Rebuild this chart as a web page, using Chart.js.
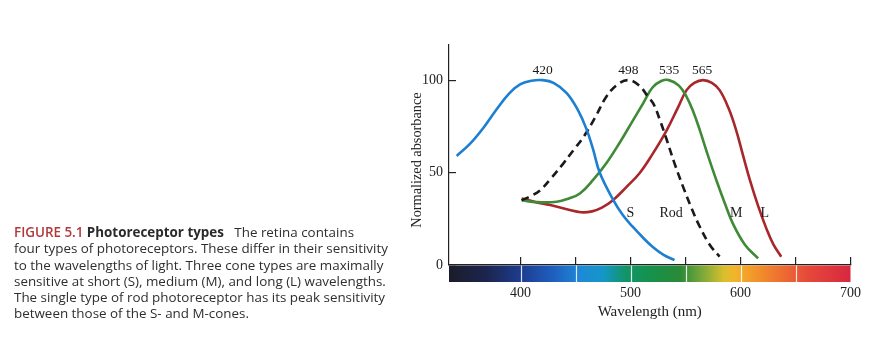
<!DOCTYPE html>
<html>
<head>
<meta charset="utf-8">
<script src="https://cdn.jsdelivr.net/npm/chart.js@4/dist/chart.umd.min.js"></script>
<style>
  html, body { margin:0; padding:0; background:#fff; }
  #wrap { position:relative; width:869px; height:356px; overflow:hidden; }
  #c { position:absolute; left:0; top:0; }
  #cap { position:absolute; left:14px; top:224px; font-family:"Open Sans", sans-serif; font-size:13.4px; line-height:16.3px; color:#2e2e2e; white-space:nowrap; }
  #cap .fig { color:#b3383b; font-weight:600; }
  #cap b { font-weight:700; color:#2a2a2a; }
  #ytitle { position:absolute; left:316px; top:152px; width:200px; height:16px; line-height:16px; text-align:center;
    font-family:"Liberation Serif", serif; font-size:14.3px; color:#222; transform:rotate(-90deg); transform-origin:50% 50%; }
</style>
</head>
<body>
<div id="wrap">
<canvas id="c" width="869" height="356"></canvas>
<div id="ytitle">Normalized absorbance</div>
<div id="cap"><span class="fig">FIGURE 5.1</span> <b>Photoreceptor types</b>&nbsp;&nbsp; The retina contains<br>four types of photoreceptors. These differ in their sensitivity<br>to the wavelengths of light. Three cone types are maximally<br>sensitive at short (S), medium (M), and long (L) wavelengths.<br>The single type of rod photoreceptor has its peak sensitivity<br>between those of the S- and M-cones.</div>
</div>
<script>
// ---- data ----
const sWavelength = [342,354,366,378,390,400,410,420,430,442,452,460,466,472,484,493,502,511,520,530,540];
const sValues     = [59,65.5,74,84,93,97.8,99.7,100,98.5,93,84,73.5,62.5,50,35.5,27,20.7,15,9.9,5.5,2.7];

const rodWavelength = [401,410,418,428,439,448,457,468,478,488,498,508,516,521,527,533,540,548,556,563,572,581];
const rodValues     = [35,37.5,40.5,47,55,62,69,80,91,97.5,100,97,91,87,78,67.6,55,42,30,20.7,11,4.5];

const mWavelength = [401,415,433,444,454,466,478,490,502,512,520,528,535,544,551,557,563,570,578,586,593,604,616];
const mValues     = [35,34,34.2,36,38.7,46,55,66,78,88,96,99.5,100,97,91,83,73,60,46,33,22.5,11,3.6];

const lWavelength = [401,414,427,443,455,465,474,484,496,508,520,533,543,551,558,566,574,581,589,596,602,608.5,616,624,630,637];
const lValues     = [36,34,32.4,30,28.5,29,31,35,42,49.5,60,73,85,94.6,98.5,100,98.5,94.6,85,73,60,46,32,19,11,4.5];

const peakLabels = ['420','498','535','565'];
const peakWavelengths = [420,498,535,565];
const peakLabelValue = 105;

const curveLabels = ['S','Rod','M','L'];
const curveLabelWavelengths = [500,537,596,622];
const curveLabelValue = 28;

const xTickValuesLabelled = [400,500,600,700];
const yTickLabels = [0,50,100];

const spectrumStops = [
  [335,'#1b1c2a'],[370,'#1c2550'],[400,'#1d3c8f'],[430,'#1f5fbf'],[455,'#1e8ad6'],[475,'#1496c8'],
  [495,'#12946a'],[520,'#16914a'],[545,'#2a8a38'],[565,'#7aa83a'],[585,'#d9bf2c'],[595,'#f2b52a'],
  [610,'#f29a2a'],[640,'#ec6a32'],[660,'#e64a3a'],[700,'#d8273f']
];

function pts(xs, ys){ return xs.map((x,i)=>({x:x, y:ys[i]})); }

const serif = '"Liberation Serif", "Times New Roman", serif';

const spectrumPlugin = {
  id:'spectrum',
  beforeDatasetsDraw(chart){
    const {ctx, chartArea, scales:{x}} = chart;
    const x0 = chartArea.left, x1 = x.getPixelForValue(700);
    const y0 = chartArea.bottom + 0.5, h = 16.5;
    const g = ctx.createLinearGradient(x0,0,x1,0);
    spectrumStops.forEach(([w,c])=>{
      const p = (x.getPixelForValue(w)-x0)/(x1-x0);
      g.addColorStop(Math.min(1,Math.max(0,p)), c);
    });
    ctx.save();
    ctx.fillStyle = g;
    ctx.fillRect(x0, y0, x1-x0, h);
    ctx.strokeStyle = 'rgba(255,255,255,0.85)';
    ctx.lineWidth = 1.2;
    x.ticks.forEach(t=>{
      if (t.value >= 400 && t.value < 700){
        const px = Math.round(x.getPixelForValue(t.value))+0.5;
        ctx.beginPath(); ctx.moveTo(px,y0); ctx.lineTo(px,y0+h); ctx.stroke();
      }
    });
    ctx.restore();
  }
};

const labelPlugin = {
  id:'labels',
  afterDatasetsDraw(chart){
    const {ctx, scales:{x,y}} = chart;
    ctx.save();
    ctx.fillStyle = '#1a1a1a';
    ctx.textAlign = 'center';
    ctx.textBaseline = 'middle';
    ctx.font = '13.5px ' + serif;
    peakLabels.forEach((t,i)=>{
      ctx.fillText(t, x.getPixelForValue(peakWavelengths[i]), y.getPixelForValue(peakLabelValue));
    });
    ctx.font = '14px ' + serif;
    curveLabels.forEach((t,i)=>{
      ctx.fillText(t, x.getPixelForValue(curveLabelWavelengths[i]), y.getPixelForValue(curveLabelValue));
    });
    ctx.restore();
  }
};

const common = { pointRadius:0, borderWidth:2.6, fill:false, tension:0.4 };

new Chart(document.getElementById('c'), {
  type:'line',
  data:{
    datasets:[
      Object.assign({label:'S', data:pts(sWavelength,sValues), borderColor:'#1d7fd2'}, common),
      Object.assign({label:'Rod', data:pts(rodWavelength,rodValues), borderColor:'#1a1a1a', borderDash:[8,5]}, common),
      Object.assign({label:'M', data:pts(mWavelength,mValues), borderColor:'#3f8a36'}, common),
      Object.assign({label:'L', data:pts(lWavelength,lValues), borderColor:'#a8272b'}, common)
    ]
  },
  options:{
    responsive:false,
    animation:false,
    devicePixelRatio:1,
    layout:{ padding:{left:400, right:18, top:45, bottom:0} },
    plugins:{ legend:{display:false}, tooltip:{enabled:false} },
    scales:{
      x:{
        type:'linear', min:335, max:700,
        afterFit(s){ s.height = 91; },
        border:{ display:true, color:'#222', width:1.2 },
        grid:{ drawOnChartArea:false, drawTicks:true, tickLength:-8, lineWidth:1.2,
               tickColor:(c)=> (c.tick && c.tick.value >= 400) ? '#222' : 'rgba(0,0,0,0)' },
        ticks:{ stepSize:50, includeBounds:false, autoSkip:false, maxRotation:0, padding:8, color:'#222',
                font:{family:serif, size:14, lineHeight:1.35},
                callback:(v)=> xTickValuesLabelled.includes(v) ? ['', String(v)] : '' },
        title:{ display:true, text:'Wavelength (nm)', color:'#222', font:{family:serif, size:15}, padding:{top:0,bottom:35} }
      },
      y:{
        type:'linear', min:0, max:119,
        afterFit(s){ s.width = 49; },
        border:{ display:true, color:'#222', width:1.2 },
        grid:{ drawOnChartArea:false, drawTicks:true, tickLength:-7, lineWidth:1.2, tickColor:'#222' },
        ticks:{ stepSize:50, includeBounds:false, padding:13, color:'#222',
                font:{family:serif, size:14},
                callback:(v)=> yTickLabels.includes(v) ? String(v) : '' }
      }
    }
  },
  plugins:[spectrumPlugin, labelPlugin]
});
</script>
</body>
</html>
